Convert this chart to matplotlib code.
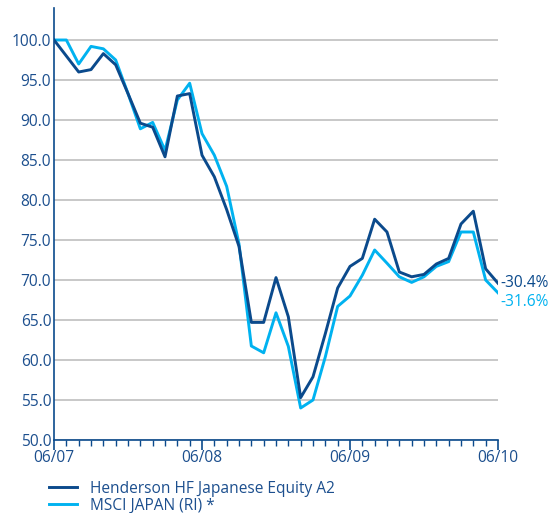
import matplotlib
matplotlib.use('Agg')
import matplotlib.pyplot as plt
import numpy as np

# Monthly index values, 06/07 to 06/10 (rebased to 100)
months = np.arange(37)
henderson = [100.0, 98.0, 96.0, 96.3, 98.3, 96.9, 93.3, 89.6, 89.1, 85.4,
             93.0, 93.3, 85.6, 82.9, 78.8, 74.2, 64.7, 64.7, 70.3, 65.4,
             55.3, 57.9, 63.3, 69.0, 71.7, 72.7, 77.6, 76.0, 71.0, 70.4,
             70.7, 72.0, 72.7, 77.0, 78.6, 71.4, 69.6]
msci = [100.0, 100.0, 97.0, 99.2, 98.9, 97.5, 93.3, 88.9, 89.7, 86.2,
        92.5, 94.6, 88.3, 85.6, 81.7, 74.5, 61.75, 60.9, 65.9, 61.7,
        54.0, 55.0, 60.4, 66.7, 68.0, 70.6, 73.75, 72.1, 70.4, 69.7,
        70.4, 71.7, 72.3, 76.0, 76.0, 70.0, 68.4]
series_names = ['Henderson HF Japanese Equity A2', 'MSCI JAPAN (RI) *']
end_labels = ['-30.4%', '-31.6%']
year_ticks = [0, 12, 24, 36]
year_labels = ['06/07', '06/08', '06/09', '06/10']
y_ticks = np.arange(50, 101, 5)

dark = '#0b4a8c'
light = '#00b2f0'
text_col = '#1c4f8e'
fs = 11.2

plt.rcParams['font.family'] = ['Open Sans', 'DejaVu Sans']

fig = plt.figure(figsize=(5.53, 5.13), dpi=100)
ax = fig.add_axes([0.0977, 0.1423, 0.8028, 0.8421])

ax.plot(months, henderson, color=dark, lw=2.1, label=series_names[0], zorder=3)
ax.plot(months, msci, color=light, lw=2.1, label=series_names[1], zorder=2)

ax.set_xlim(0, 36)
ax.set_ylim(50, 104)

ax.set_yticks(y_ticks)
ax.set_yticklabels([f'{v:.1f}' for v in y_ticks])
ax.set_xticks(year_ticks)
ax.set_xticklabels(year_labels)
ax.set_xticks(months, minor=True)

ax.tick_params(axis='y', length=0, pad=2, labelsize=fs, labelcolor=text_col)
ax.tick_params(axis='x', which='major', direction='out', length=7, width=1.2,
               color=dark, labelsize=fs, labelcolor=text_col, pad=0)
ax.tick_params(axis='x', which='minor', direction='out', length=4, width=1,
               color=dark)

ax.grid(axis='y', color='#c4c4c4', lw=1.3)
ax.set_axisbelow(True)
for s in ['top', 'right']:
    ax.spines[s].set_visible(False)
for s in ['left', 'bottom']:
    ax.spines[s].set_color(dark)
    ax.spines[s].set_linewidth(1.2)

# end-of-period performance labels
ax.annotate(end_labels[0], xy=(36, henderson[-1]), xytext=(1.5, 0),
            textcoords='offset points', va='center', ha='left',
            color=dark, fontsize=fs, annotation_clip=False)
ax.annotate(end_labels[1], xy=(36, msci[-1]), xytext=(1.5, -6.5),
            textcoords='offset points', va='center', ha='left',
            color=light, fontsize=fs, annotation_clip=False)

leg = ax.legend(loc='upper left', bbox_to_anchor=(0.089, 0.063),
                bbox_transform=fig.transFigure, frameon=False,
                fontsize=fs, handlelength=1.8, handletextpad=0.8,
                labelspacing=0.06, borderaxespad=0, borderpad=0)
for t in leg.get_texts():
    t.set_color(text_col)

fig.savefig('out.png', dpi=100)
